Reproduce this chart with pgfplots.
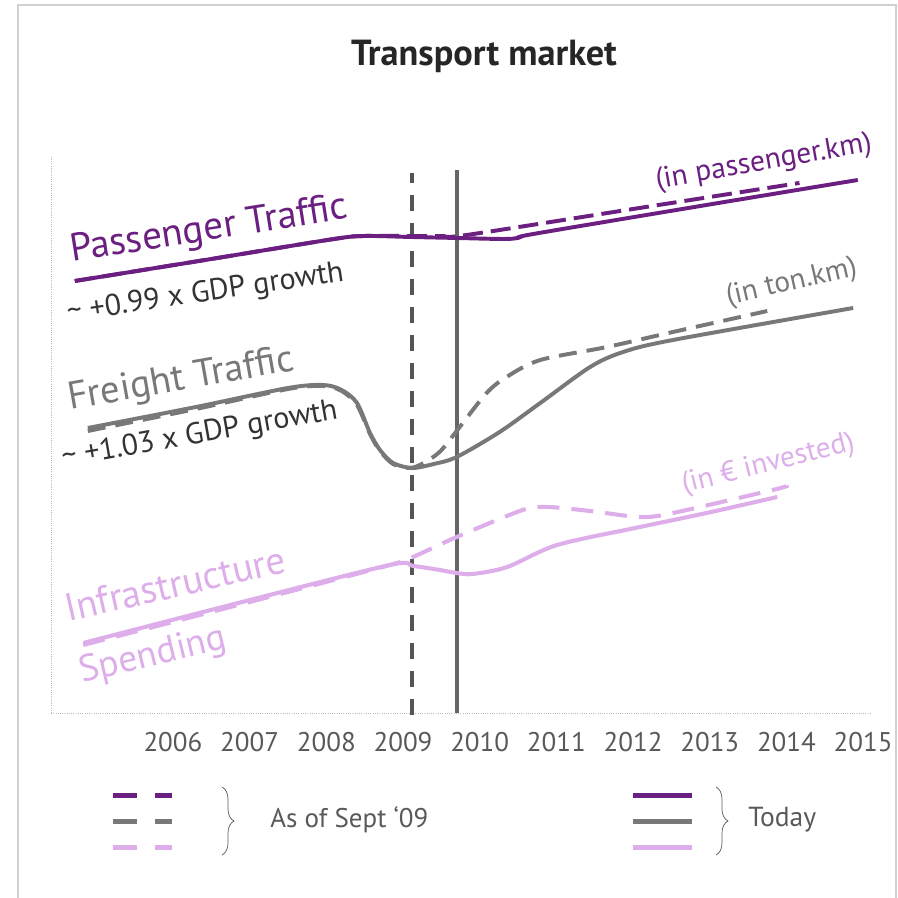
\documentclass[border=0pt]{standalone}
\usepackage{fontspec}
\setmainfont{PT Sans}
\usepackage{pgfplots}
\pgfplotsset{compat=1.18}
\usetikzlibrary{decorations.pathreplacing}
\definecolor{pur}{HTML}{6B1F80}
\definecolor{gry}{HTML}{787878}
\definecolor{lil}{HTML}{DDAEEA}
\definecolor{vdash}{HTML}{555555}
\definecolor{vsol}{HTML}{666666}
\definecolor{txt}{HTML}{595959}
\definecolor{frm}{HTML}{D0D0D0}
\begin{document}
\begin{tikzpicture}
\begin{axis}[at={(12.75mm,46mm)}, anchor=south west, scale only axis,
  width=204.75mm, height=139mm,
  xmin=2004.41, xmax=2015.09, ymin=0, ymax=556,
  axis x line=bottom, axis y line=left,
  axis line style={draw=gray!55, densely dotted, line width=0.6pt, -},
  xtick={2006,2007,2008,2009,2010,2011,2012,2013,2014,2015},
  xticklabels={2006,2007,2008,2009,2010,2011,2012,2013,2014,2015},
  ytick=\empty, major tick length=0pt,
  xticklabel style={font=\fontsize{19.2}{21}\selectfont, text=txt, yshift=-3.5mm},
  clip=false,
  psol/.style={pur, line width=2.8pt, smooth, tension=0.5},
  pdash/.style={pur, line width=2.8pt, smooth, tension=0.5, dash pattern=on 5mm off 2mm},
  gsol/.style={gry, line width=2.8pt, smooth, tension=0.5},
  gdash/.style={gry, line width=2.8pt, smooth, tension=0.5, dash pattern=on 4.5mm off 2.5mm},
  lsol/.style={lil, line width=2.9pt, smooth, tension=0.5},
  ldash/.style={lil, line width=2.9pt, smooth, tension=0.5, dash pattern=on 5.5mm off 3mm},
]
% vertical markers
\addplot[vdash, line width=2.7pt, dash pattern=on 4mm off 3mm] coordinates {(2009.12,-2) (2009.12,540)};
\addplot[vsol, line width=2.7pt] coordinates {(2009.70,0) (2009.70,543)};
% infrastructure
\addplot[ldash] coordinates {(2004.83,68) (2006.8,107) (2008.83,148) (2009.13,156) (2009.70,176) (2010.56,203) (2010.88,206) (2011.44,202) (2012.09,196) (2012.52,200) (2013.82,223) (2014.0,227)};
\addplot[lsol] coordinates {(2004.83,70) (2006.8,109) (2008.83,148) (2009.13,147) (2009.48,143) (2009.70,140) (2009.91,139) (2010.36,146) (2011.01,168) (2012.09,186) (2012.96,200) (2013.88,216)};
% freight
\addplot[gdash] coordinates {(2004.89,282) (2006.3,304) (2007.5,324) (2007.96,327) (2008.2,322) (2008.40,308) (2008.57,279) (2008.70,262) (2008.87,249) (2009.09,245) (2009.27,250) (2009.49,262) (2009.74,286) (2010.09,320) (2010.35,336) (2010.79,353) (2011.66,366) (2012.52,381) (2013.75,402)};
\addplot[gsol] coordinates {(2004.89,285) (2006.3,306) (2007.5,325) (2007.96,328) (2008.2,323) (2008.40,310) (2008.57,280) (2008.70,263) (2008.87,250) (2009.12,245) (2009.40,249) (2009.70,256) (2010.26,281) (2010.79,310) (2011.44,346) (2011.87,361) (2012.52,373) (2014.87,405)};
% passenger
\addplot[pdash] coordinates {(2004.72,432) (2006.5,454) (2008.1,474) (2008.5,477) (2009.1,477) (2009.5,477) (2009.83,478) (2012,504) (2014.17,530)};
\addplot[psol] coordinates {(2004.72,432) (2006.5,454) (2008.1,474) (2008.5,477) (2009.1,476) (2009.7,475) (2010.3,474) (2010.5,475) (2010.7,479) (2012.8,506) (2014.93,533)};
% legend swatches
\addplot[pur, line width=1.25mm] coordinates {(2005.218,-82) (2005.531,-82)};
\addplot[pur, line width=1.25mm] coordinates {(2005.765,-82) (2005.987,-82)};
\addplot[gry, line width=1.25mm] coordinates {(2005.218,-108) (2005.531,-108)};
\addplot[gry, line width=1.25mm] coordinates {(2005.765,-108) (2005.987,-108)};
\addplot[lil, line width=1.25mm] coordinates {(2005.218,-134) (2005.531,-134)};
\addplot[lil, line width=1.25mm] coordinates {(2005.765,-134) (2005.987,-134)};
\addplot[pur, line width=1.25mm] coordinates {(2011.998,-82) (2012.768,-82)};
\addplot[gry, line width=1.25mm] coordinates {(2011.998,-108) (2012.768,-108)};
\addplot[lil, line width=1.25mm] coordinates {(2011.998,-134) (2012.768,-134)};
\end{axis}
\begin{scope}[x=0.25mm, y=0.25mm]
\draw[frm, line width=0.5mm] (18,892) rectangle (896,-20);
\node[anchor=base, font=\fontsize{25.8}{30}\selectfont\bfseries, text=black!85] at (484,831) {Transport market};
\node[anchor=base west, rotate=9, inner sep=0, font=\fontsize{27.8}{32}\selectfont, text=pur] at (72,635) {Passenger Traffic};
\node[anchor=base west, rotate=8.5, inner sep=0, font=\fontsize{21.4}{24}\selectfont, text=black!80] at (68,575) {\textasciitilde{} +0.99 x GDP growth};
\node[anchor=base west, rotate=10, inner sep=0, font=\fontsize{27.5}{32}\selectfont, text=gry] at (70,487) {Freight Traffic};
\node[anchor=base west, rotate=10, inner sep=0, font=\fontsize{21.4}{24}\selectfont, text=black!80] at (63,430) {\textasciitilde{} +1.03 x GDP growth};
\node[anchor=base west, rotate=12.8, inner sep=0, font=\fontsize{27.6}{32}\selectfont, text=lil] at (68,275) {Infrastructure};
\node[anchor=base west, rotate=13.5, inner sep=0, font=\fontsize{26.6}{32}\selectfont, text=lil] at (82,214) {Spending};
\node[anchor=base west, rotate=10, inner sep=0, font=\fontsize{21}{24}\selectfont, text=pur] at (657,708) {(in passenger.km)};
\node[anchor=base west, rotate=13, inner sep=0, font=\fontsize{20.8}{24}\selectfont, text=gry] at (728,592) {(in ton.km)};
\node[anchor=base west, rotate=14, inner sep=0, font=\fontsize{20.8}{24}\selectfont, text=lil] at (684,404) {(in € invested)};
\draw[decorate, decoration={brace, amplitude=3mm}, txt, line width=0.5pt] (222,110) -- (222,42);
\draw[decorate, decoration={brace, amplitude=3mm}, txt, line width=0.5pt] (716,110) -- (716,42);
\node[anchor=west, inner sep=0, font=\fontsize{19.2}{24}\selectfont, text=txt] at (270,77) {As of Sept ‘09};
\node[anchor=west, inner sep=0, font=\fontsize{19.6}{24}\selectfont, text=txt] at (748,77) {Today};
\pgfresetboundingbox
\path[use as bounding box] (0,0) rectangle (898,897);
\end{scope}
\end{tikzpicture}
\end{document}
